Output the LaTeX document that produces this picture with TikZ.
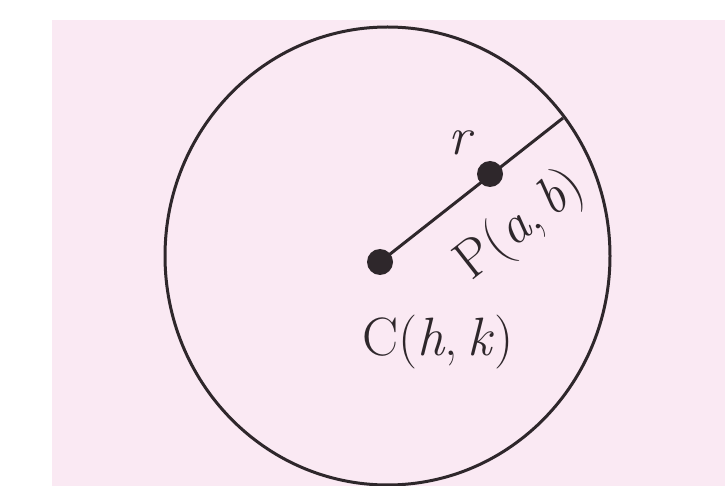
\documentclass[tikz,border=0pt]{standalone}
\usepackage{fontspec}
\definecolor{bgpink}{HTML}{FAE9F3}
\definecolor{ink}{HTML}{2E272B}
\begin{document}
\begin{tikzpicture}[x=1pt,y=-1pt,
  lbl/.style={text=ink,inner sep=0pt,font=\fontsize{54}{64}\selectfont},
  dotpt/.style={circle,fill=ink,inner sep=0pt,minimum size=26pt}]
\useasboundingbox (0,0) rectangle (725,486);
\fill[bgpink] (52,20) rectangle (725,486);
\draw[ink,line width=3pt] (387.5,256) ellipse [x radius=222.5, y radius=229];
\node[dotpt] (C) at (380,262) {};
\node[dotpt] (P) at (490,174) {};
\coordinate (E) at (563,118);
\draw[ink,line width=3pt] (C.center) -- (E);
\node[lbl] (r) at (461,143) {\textit{r}};
\node[lbl,rotate=38] (Plbl) at (521,226) {P(\textit{a},\,\textit{b})};
\node[lbl] (Clbl) at (438,342) {C(\textit{h},\,\textit{k})};
\end{tikzpicture}
\end{document}
